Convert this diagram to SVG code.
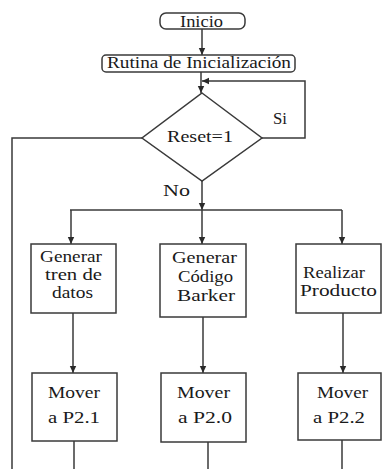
<svg xmlns="http://www.w3.org/2000/svg" width="382" height="469" viewBox="0 0 382 469">
<style>
.b{fill:#ffffff;stroke:#3a3a3a;stroke-width:1.5}
.c{fill:none;stroke:#3a3a3a;stroke-width:1.5}
.t{font-family:"Liberation Serif","Times New Roman",Times,"Noto Serif","DejaVu Serif",serif;font-size:16px;fill:#1a1a1a}
</style>
<defs>
<marker id="a" markerUnits="userSpaceOnUse" markerWidth="8" markerHeight="8" viewBox="0 0 8 8" refX="7" refY="4" orient="auto">
<path d="M0,0.8 L7,4 L0,7.2 Z" fill="#2a2a2a"/>
</marker>
</defs>
<rect width="382" height="469" fill="#ffffff"/>
<g id="connectors">
<path class="c" d="M202,29 V55" marker-end="url(#a)"/>
<path class="c" d="M201,72 V93" marker-end="url(#a)"/>
<path class="c" d="M262,138 H305 V81 H202" marker-end="url(#a)"/>
<path class="c" d="M142,138 H12 V469"/>
<path class="c" d="M202,180 V210" marker-end="url(#a)"/>
<path class="c" d="M70,210 H342"/>
<path class="c" d="M71,210 V244" marker-end="url(#a)"/>
<path class="c" d="M202,210 V244" marker-end="url(#a)"/>
<path class="c" d="M342,210 V244" marker-end="url(#a)"/>
<path class="c" d="M73,313 V373" marker-end="url(#a)"/>
<path class="c" d="M203,317 V373" marker-end="url(#a)"/>
<path class="c" d="M343,313 V373" marker-end="url(#a)"/>
<path class="c" d="M74,441 V469"/>
<path class="c" d="M208,442 V469"/>
<path class="c" d="M342,440 V469"/>
<text class="t" x="273" y="124" textLength="14" lengthAdjust="spacingAndGlyphs">Si</text>
<text class="t" x="163" y="196" textLength="27" lengthAdjust="spacingAndGlyphs">No</text>
</g>
<g id="inicio">
<rect class="b" x="160" y="13" width="85" height="16" rx="6"/>
<text class="t" x="180" y="27" textLength="43" lengthAdjust="spacingAndGlyphs">Inicio</text>
</g>
<g id="rutina">
<rect class="b" x="102" y="55" width="193" height="17" rx="4"/>
<text class="t" x="107" y="68" textLength="184" lengthAdjust="spacingAndGlyphs">Rutina de Inicialización</text>
</g>
<g id="reset">
<polygon class="b" points="202,93 262,138 202,181 142,138"/>
<text class="t" x="167" y="142" textLength="66" lengthAdjust="spacingAndGlyphs">Reset=1</text>
</g>
<g id="gen-tren">
<rect class="b" x="31" y="244" width="85" height="69"/>
<text class="t" x="40" y="262" textLength="62" lengthAdjust="spacingAndGlyphs">Generar</text>
<text class="t" x="45" y="280" textLength="57" lengthAdjust="spacingAndGlyphs">tren de</text>
<text class="t" x="52" y="298" textLength="41" lengthAdjust="spacingAndGlyphs">datos</text>
</g>
<g id="gen-barker">
<rect class="b" x="160" y="244" width="86" height="73"/>
<text class="t" x="172" y="263" textLength="65" lengthAdjust="spacingAndGlyphs">Generar</text>
<text class="t" x="178" y="282" textLength="55" lengthAdjust="spacingAndGlyphs">Código</text>
<text class="t" x="177" y="301" textLength="58" lengthAdjust="spacingAndGlyphs">Barker</text>
</g>
<g id="producto">
<rect class="b" x="296" y="244" width="85" height="69"/>
<text class="t" x="303" y="278" textLength="62" lengthAdjust="spacingAndGlyphs">Realizar</text>
<text class="t" x="300" y="296" textLength="77" lengthAdjust="spacingAndGlyphs">Producto</text>
</g>
<g id="mover-21">
<rect class="b" x="32" y="373" width="85" height="68"/>
<text class="t" x="48" y="398" textLength="52" lengthAdjust="spacingAndGlyphs">Mover</text>
<text class="t" x="48" y="423" textLength="52" lengthAdjust="spacingAndGlyphs">a P2.1</text>
</g>
<g id="mover-20">
<rect class="b" x="161" y="373" width="85" height="69"/>
<text class="t" x="177" y="398" textLength="53" lengthAdjust="spacingAndGlyphs">Mover</text>
<text class="t" x="178" y="423" textLength="54" lengthAdjust="spacingAndGlyphs">a P2.0</text>
</g>
<g id="mover-22">
<rect class="b" x="298" y="373" width="83" height="67"/>
<text class="t" x="317" y="398" textLength="51" lengthAdjust="spacingAndGlyphs">Mover</text>
<text class="t" x="313" y="423" textLength="52" lengthAdjust="spacingAndGlyphs">a P2.2</text>
</g>
</svg>
